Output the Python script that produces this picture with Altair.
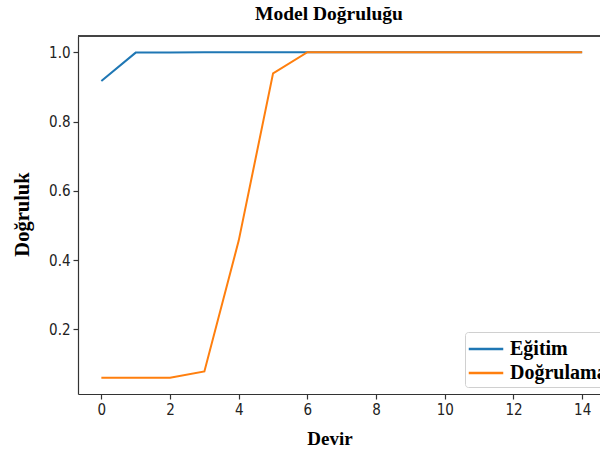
import altair as alt
import pandas as pd

epochs = list(range(15))
egitim = [0.917, 0.999, 0.999, 1.0, 1.0, 1.0, 1.0, 1.0, 1.0, 1.0, 1.0, 1.0, 1.0, 1.0, 1.0]
dogrulama = [0.06, 0.06, 0.06, 0.078, 0.456, 0.939, 1.0, 1.0, 1.0, 1.0, 1.0, 1.0, 1.0, 1.0, 1.0]
series_names = ["Eğitim", "Doğrulama"]
series_colors = ["#1f77b4", "#ff7f0e"]
x_ticks = [0, 2, 4, 6, 8, 10, 12, 14]
y_ticks = [0.2, 0.4, 0.6, 0.8, 1.0]

rows = []
for name, vals in zip(series_names, [egitim, dogrulama]):
    for e, v in zip(epochs, vals):
        rows.append({"epoch": e, "acc": v, "seri": name})
df = pd.DataFrame(rows)

W, H = 522, 358
SERIF = "Liberation Serif"
SANS = "DejaVu Sans Condensed, DejaVu Sans"

lines = alt.Chart(df).mark_line(strokeWidth=2).encode(
    x=alt.X("epoch:Q",
            scale=alt.Scale(domain=[-0.68, 14.52], nice=False, zero=False),
            axis=alt.Axis(values=x_ticks, title="Devir", grid=False, format="d",
                          titleX=251.5, titleY=50.5, titleBaseline="alphabetic",
                          titleAnchor="start", titleAlign="center", titleFontSize=19)),
    y=alt.Y("acc:Q",
            scale=alt.Scale(domain=[0.013, 1.047], nice=False, zero=False),
            axis=alt.Axis(values=y_ticks, title="Doğruluk", grid=False, format=".1f",
                          titleX=-50, titleY=178, titleAngle=270, titleFontSize=20.5,
                          titleBaseline="alphabetic", titleAlign="center")),
    color=alt.Color("seri:N",
                    scale=alt.Scale(domain=series_names, range=series_colors),
                    legend=alt.Legend(orient="none", legendX=387, legendY=296, title=None,
                                      symbolType="M-1.5,0L1.5,0", symbolSize=529,
                                      symbolStrokeWidth=2.5, symbolOffset=4,
                                      labelOffset=11, labelFont=SERIF, labelFontWeight="bold",
                                      labelFontSize=20, labelColor="black", padding=4,
                                      strokeColor="#d0d0d0", fillColor="white",
                                      cornerRadius=3, rowPadding=1, labelLimit=300)),
    order=alt.Order("epoch:Q"),
)

top_spine = alt.Chart(df).mark_rule(color="#444444", strokeWidth=1.1).encode(
    x=alt.value(0), x2=alt.value(W), y=alt.value(0)
)

chart = alt.layer(top_spine, lines).properties(
    width=W, height=H,
    background="white",
    autosize=alt.AutoSizeParams(type="none"),
    padding={"left": 78, "top": 36, "right": 0, "bottom": 60},
    title=alt.TitleParams("Model Doğruluğu", font=SERIF, fontWeight="bold", fontSize=19.5,
                          color="black", anchor="middle", dx=-10, dy=20, offset=16,
                          baseline="alphabetic"),
).configure_view(stroke=None).configure_axis(
    domainColor="#333333", domainWidth=1.2, tickColor="#333333", tickSize=5, tickWidth=1.2,
    labelFont=SANS, labelFontSize=15, labelColor="#222222", labelPadding=3,
    titleFont=SERIF, titleFontWeight="bold", titleFontSize=19, titleColor="black",
)

chart.save("out.html", embed_options={"renderer": "svg", "actions": False})
